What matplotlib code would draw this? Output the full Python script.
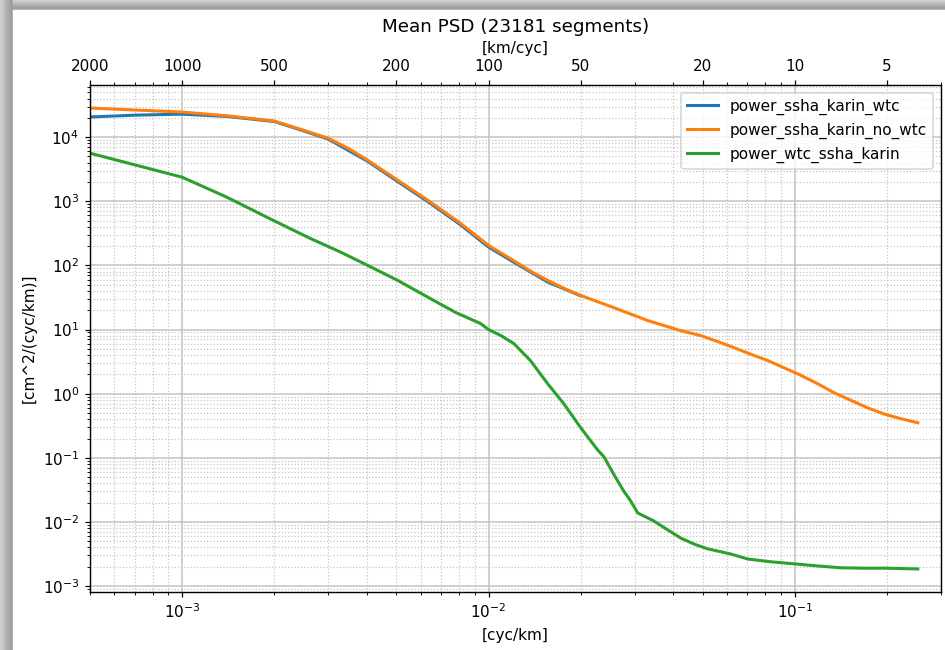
import numpy as np
import matplotlib
matplotlib.use("Agg")
import matplotlib.pyplot as plt
from matplotlib.patches import Rectangle

# ==========================================================================
#  Data (frequency in cyc/km, PSD in cm^2/(cyc/km))
# ==========================================================================

N_SEGMENTS = 23181

freq_wtc = [5e-4, 7e-4, 1e-3, 1.4e-3, 2e-3, 2.48e-3, 3.0e-3, 4.03e-3, 5.05e-3,
            6.33e-3, 8.1e-3, 1e-2, 1.21e-2, 1.56e-2, 2.0e-2]
power_ssha_karin_wtc = [2.06e4, 2.2e4, 2.28e4, 2.1e4, 1.75e4, 1.26e4, 9.3e3,
                        4.2e3, 2.03e3, 9.9e2, 4.3e2, 1.93e2, 1.12e2, 55.0, 33.5]

freq = [5e-4, 7e-4, 1e-3, 1.4e-3, 2e-3, 2.48e-3, 3.0e-3, 3.5e-3, 4.03e-3,
        5.05e-3, 6.33e-3, 8.1e-3, 1e-2, 1.21e-2, 1.38e-2, 1.56e-2, 1.78e-2,
        2.0e-2, 2.56e-2, 3.31e-2, 4.24e-2, 4.93e-2, 5.6e-2, 6.32e-2, 7.2e-2,
        8.17e-2, 0.091, 0.102, 0.118, 0.134, 0.153, 0.173, 0.196, 0.222, 0.252]
power_ssha_karin_no_wtc = [2.84e4, 2.65e4, 2.46e4, 2.15e4, 1.78e4, 1.29e4,
                           9.6e3, 6.6e3, 4.37e3, 2.13e3, 1.04e3, 4.53e2,
                           2.05e2, 1.18e2, 80.0, 58.3, 43.0, 34.0, 22.0, 13.8,
                           9.6, 8.05, 6.5, 5.23, 4.1, 3.28, 2.6, 2.05, 1.45,
                           1.04, 0.78, 0.60, 0.48, 0.407, 0.352]

freq_green = [5e-4, 1e-3, 1.4e-3, 1.98e-3, 2.62e-3, 3.3e-3, 4.03e-3, 5.05e-3,
              6.45e-3, 7.8e-3, 9.42e-3, 1e-2, 1.1e-2, 1.21e-2, 1.37e-2,
              1.56e-2, 1.76e-2, 2.0e-2, 2.27e-2, 2.38e-2, 2.56e-2, 2.76e-2,
              2.91e-2, 3.07e-2, 3.21e-2, 3.46e-2, 3.8e-2, 4.24e-2, 4.7e-2,
              5.2e-2, 5.7e-2, 6.18e-2, 7.02e-2, 8.3e-2, 0.1007, 0.12, 0.141,
              0.17, 0.201, 0.252]
power_wtc_ssha_karin = [5.62e3, 2.37e3, 1.155e3, 5.05e2, 2.63e2, 1.6e2, 1.0e2,
                        58.4, 30.5, 18.5, 12.4, 10.0, 8.0, 6.04, 3.28,
                        1.43, 0.698, 0.294, 0.133, 0.104, 0.056, 0.0305,
                        0.0213, 0.0138, 0.0124, 0.0104, 7.8e-3, 5.6e-3, 4.5e-3,
                        3.8e-3, 3.45e-3, 3.16e-3, 2.64e-3, 2.4e-3, 2.21e-3,
                        2.05e-3, 1.93e-3, 1.9e-3, 1.9e-3, 1.85e-3]

km_ticks = [2000, 1000, 500, 200, 100, 50, 20, 10, 5]


def add_shadow(fig):
    """Grey drop-shadow band along the top and left edges (screenshot frame)."""
    W, H = fig.get_size_inches() * fig.dpi
    n = 10
    for i in range(n):
        c = 0.84 - 0.22 * i / (n - 1)
        fig.patches.append(Rectangle((i * 12 / W / n, 0), 12 / W / n, 1,
                                     transform=fig.transFigure, color=str(c),
                                     zorder=-10))
        fig.patches.append(Rectangle((12 / W, 1 - (i + 1) * 9 / H / n), 1, 9 / H / n,
                                     transform=fig.transFigure, color=str(c),
                                     zorder=-10))


def main():
    fig = plt.figure(figsize=(945 / 110, 650 / 110), dpi=110)
    add_shadow(fig)
    ax = fig.add_axes([90 / 945, 1 - 592 / 650, 851 / 945, (592 - 85) / 650])

    ax.loglog(freq_wtc, power_ssha_karin_wtc, lw=2, label="power_ssha_karin_wtc")
    ax.loglog(freq, power_ssha_karin_no_wtc, lw=2, label="power_ssha_karin_no_wtc")
    ax.loglog(freq_green, power_wtc_ssha_karin, lw=2, label="power_wtc_ssha_karin")

    ax.set_xlim(5e-4, 0.3)
    ax.grid(True, which="major", color="#c4c4c4", lw=1.0)
    ax.grid(True, which="minor", color="#c4c4c4", ls=":", lw=0.8)
    ax.set_xlabel("[cyc/km]")
    ax.set_ylabel("[cm^2/(cyc/km)]")
    ax.legend(loc="upper right")

    ax2 = ax.twiny()
    ax2.set_xscale("log")
    ax2.set_xlim(ax.get_xlim())
    ax2.set_xticks([1.0 / k for k in km_ticks])
    ax2.set_xticklabels([str(k) for k in km_ticks])
    ax2.set_xlabel("[km/cyc]")
    ax2.set_title(f"Mean PSD ({N_SEGMENTS} segments)", fontsize=12)

    fig.savefig("out.png", dpi=110)
    plt.close(fig)


if __name__ == "__main__":
    main()
